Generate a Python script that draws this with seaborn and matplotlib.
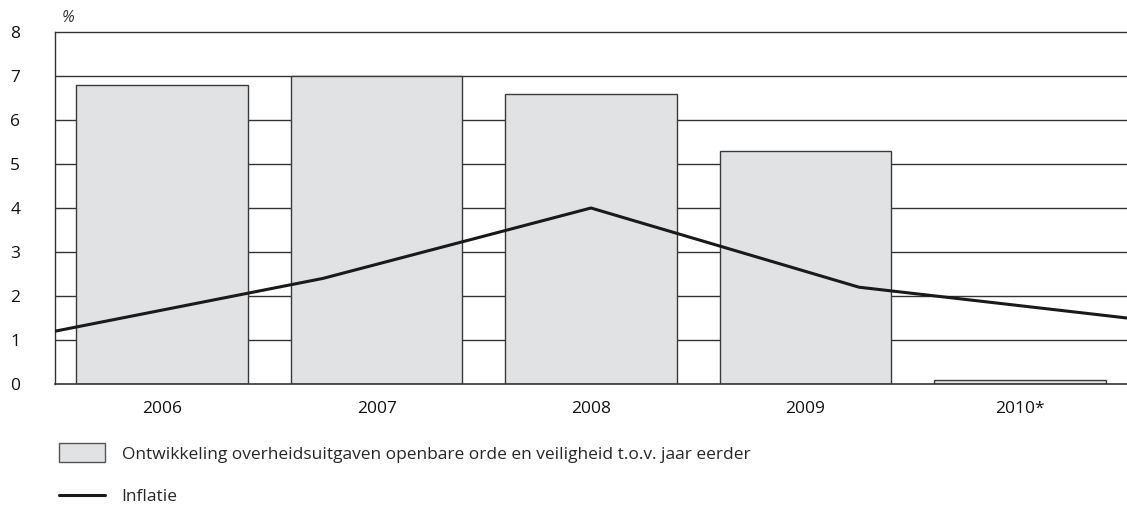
import pandas as pd
import matplotlib
matplotlib.use("Agg")
import matplotlib.pyplot as plt
import seaborn as sns
from matplotlib.patches import Patch
from matplotlib.lines import Line2D

# data
years = ["2006", "2007", "2008", "2009", "2010*"]
uitgaven = [6.8, 7.0, 6.6, 5.3, 0.1]
inflatie = [1.2, 2.4, 4.0, 2.2, 1.5]

bar_label = "Ontwikkeling overheidsuitgaven openbare orde en veiligheid t.o.v. jaar eerder"
line_label = "Inflatie"

sns.set_theme(style="white")
plt.rcParams["font.family"] = ["Open Sans", "DejaVu Sans"]

FS = 12.5
df_bar = pd.DataFrame({"jaar": years, "waarde": uitgaven})
df_line = pd.DataFrame({"pos": range(len(years)), "waarde": inflatie})

fig = plt.figure(figsize=(11.27, 5.05), dpi=100)
ax = fig.add_axes([55 / 1127, 121 / 505, 1 - 55 / 1127, 352 / 505])

for y in range(1, 8):
    ax.axhline(y, color="#333333", lw=1.0, zorder=0)

sns.barplot(data=df_bar, x="jaar", y="waarde", color="#e1e2e4", saturation=1,
            edgecolor="#3a3a3a", linewidth=1.0, width=0.8, ax=ax, zorder=2)
ax.set_xlim(-0.5, 4.5)
ax.set_ylim(0, 8)
ax.set_yticks(range(0, 9))
ax.set_xlabel("")
ax.set_ylabel("")
ax.tick_params(axis="both", length=0, labelsize=FS, colors="#111111")
ax.tick_params(axis="y", pad=25)
ax.tick_params(axis="x", pad=12)

for s in ["left", "top", "bottom"]:
    ax.spines[s].set_color("#333333")
    ax.spines[s].set_linewidth(1.0)
ax.spines["bottom"].set_linewidth(1.2)
ax.spines["right"].set_visible(False)

# inflation line is spread evenly over the full width
ax2 = ax.twiny()
sns.lineplot(data=df_line, x="pos", y="waarde", color="#1a1a1a", linewidth=2.2, ax=ax2, zorder=3)
ax2.set_xlim(0, len(years) - 1)
ax2.set_ylim(0, 8)
ax2.set_xticks([])
ax2.set_xlabel("")
ax2.set_ylabel("")
for s in ax2.spines.values():
    s.set_visible(False)

fig.text(62 / 1127, 1 - 18 / 505, "%", fontsize=11.5, style="italic", color="#333333", va="center")

# legend rows, placed one by one
fig.legend([Patch(facecolor="#e1e2e4", edgecolor="#555555", linewidth=1.0)], [bar_label],
           loc="center left", bbox_to_anchor=(59 / 1127, 1 - 453 / 505), frameon=False,
           fontsize=FS, handlelength=2.65, handleheight=1.25, handletextpad=0.95,
           borderpad=0, borderaxespad=0)
fig.legend([Line2D([0], [0], color="#1a1a1a", linewidth=2.2)], [line_label],
           loc="center left", bbox_to_anchor=(59 / 1127, 1 - 497 / 505), frameon=False,
           fontsize=FS, handlelength=2.65, handletextpad=0.95, borderpad=0, borderaxespad=0)

fig.savefig("out.png", dpi=100)
